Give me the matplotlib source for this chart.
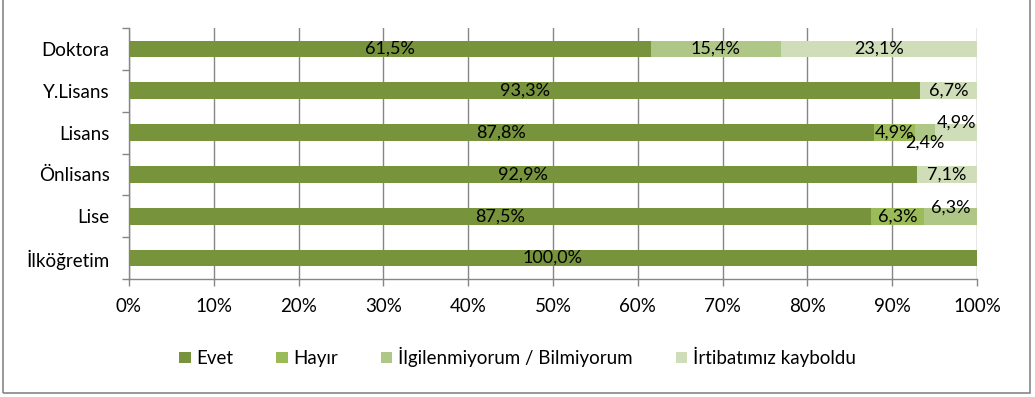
import matplotlib.pyplot as plt
import matplotlib.patches as mpatches
from matplotlib.ticker import PercentFormatter
import numpy as np

plt.rcParams["font.family"] = ["Lato", "DejaVu Sans"]

# Eğitim düzeyine göre yanıt dağılımı (%)
kategoriler = ["İlköğretim", "Lise", "Önlisans", "Lisans", "Y.Lisans", "Doktora"]
evet = [100.0, 87.5, 92.9, 87.8, 93.3, 61.5]
hayir = [0.0, 6.3, 0.0, 4.9, 0.0, 0.0]
ilgilenmiyorum = [0.0, 6.3, 0.0, 2.4, 0.0, 15.4]
irtibat = [0.0, 0.0, 7.1, 4.9, 6.7, 23.1]

seriler = [
    ("Evet", evet, "#77933C"),
    ("Hayır", hayir, "#9BBB59"),
    ("İlgilenmiyorum / Bilmiyorum", ilgilenmiyorum, "#AFC786"),
    ("İrtibatımız kayboldu", irtibat, "#D0DDB9"),
]

# küçük dilimlerde etiketlerin üst üste binmemesi için dikey kaydırma (px)
kaydirma = {("Lisans", 2): -10, ("Lisans", 3): 10, ("Lise", 2): 9}

FS = 13.5

fig = plt.figure(figsize=(10.35, 3.97), dpi=100)
ax = fig.add_axes([129 / 1035, 1 - 279 / 397, 848 / 1035, 251 / 397])

y = np.arange(len(kategoriler))
sol = np.zeros(len(kategoriler))
for si, (ad, degerler, renk) in enumerate(seriler):
    degerler = np.array(degerler)
    ax.barh(y, degerler, left=sol, height=0.4, color=renk, label=ad, zorder=3)
    for i, v in enumerate(degerler):
        if v <= 0:
            continue
        dy = kaydirma.get((kategoriler[i], si), 0)
        ax.annotate(f"{v:.1f}%".replace(".", ","), (sol[i] + v / 2, y[i]),
                    xytext=(0, dy), textcoords="offset pixels",
                    ha="center", va="center", fontsize=FS - 0.5, color="black", zorder=4)
    sol += degerler

ax.set_xlim(0, 100)
ax.set_ylim(-0.5, len(kategoriler) - 0.5)
ax.set_xticks(np.arange(0, 101, 10))
ax.xaxis.set_major_formatter(PercentFormatter(decimals=0))
ax.set_yticks(y)
ax.set_yticklabels(kategoriler)
ax.set_yticks(np.arange(-0.5, len(kategoriler)), minor=True)
ax.tick_params(axis="y", which="major", length=0, pad=14, labelsize=FS)
ax.tick_params(axis="y", which="minor", length=5, color="#868686", width=1)
ax.tick_params(axis="x", length=5, color="#868686", width=1, labelsize=FS, pad=9)

ax.grid(axis="x", color="#868686", linewidth=1, zorder=0)
for s in ["top", "right"]:
    ax.spines[s].set_visible(False)
for s in ["left", "bottom"]:
    ax.spines[s].set_color("#868686")
    ax.spines[s].set_linewidth(1)

ax.legend(loc="center", bbox_to_anchor=(0.5, 1 - 357 / 397), bbox_transform=fig.transFigure,
          ncol=4, frameon=False, fontsize=FS, handlelength=0.6, handleheight=0.6,
          handletextpad=0.3, columnspacing=2.3)

# grafik alanının çerçevesi
fig.patches.append(mpatches.Rectangle((3 / 1035, 4 / 397), 1027 / 1035, 1.0, transform=fig.transFigure,
                                      fill=False, edgecolor="#868686", linewidth=1.2))

fig.savefig("out.png", dpi=100)
